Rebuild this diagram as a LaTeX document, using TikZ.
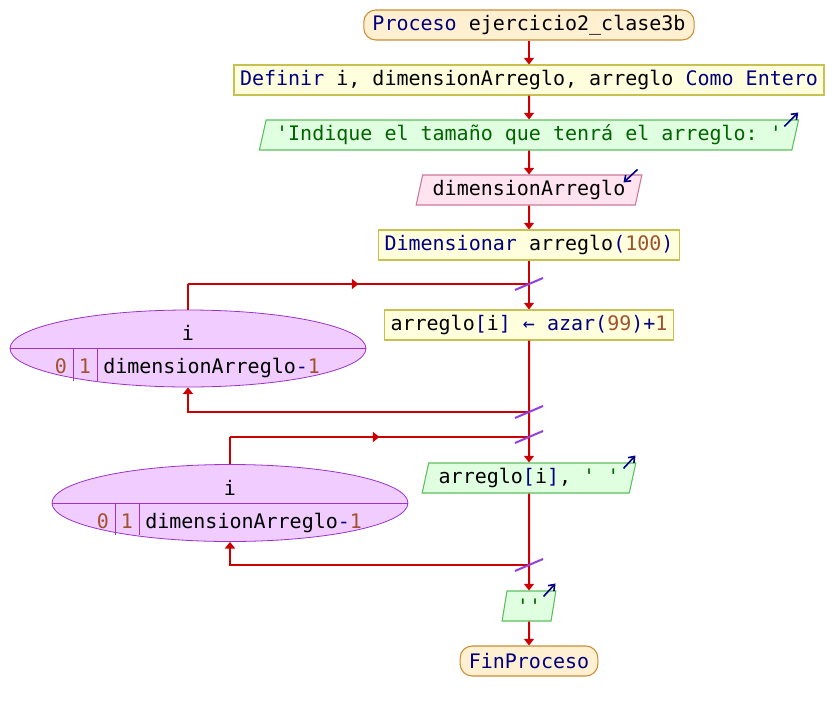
\documentclass[tikz,border=0pt]{standalone}
\usepackage{fontspec}
\setmonofont{DejaVu Sans Mono}
\usetikzlibrary{positioning, shapes.geometric, arrows.meta, decorations.markings}
\definecolor{flowRed}{HTML}{CC0000}
\definecolor{kwBlue}{HTML}{000080}
\definecolor{strGreen}{HTML}{006400}
\definecolor{numBrown}{HTML}{A0522D}
\definecolor{termFill}{HTML}{FFF0D2}
\definecolor{termLine}{HTML}{CC8C33}
\definecolor{procFill}{HTML}{FFFFDD}
\definecolor{procLine}{HTML}{C8C050}
\definecolor{outFill}{HTML}{E0FFE0}
\definecolor{outLine}{HTML}{5CBF5C}
\definecolor{inFill}{HTML}{FFE4F0}
\definecolor{inLine}{HTML}{CC7799}
\definecolor{loopFill}{HTML}{F0CCFF}
\definecolor{loopLine}{HTML}{9933CC}
\definecolor{slashPurple}{HTML}{9040E0}

\newcommand{\kwd}[1]{\textcolor{kwBlue}{#1}}
\newcommand{\nmb}[1]{\textcolor{numBrown}{#1}}
\newcommand{\strg}[1]{\textcolor{strGreen}{#1}}

\begin{document}
\begin{tikzpicture}[
    x=0.75pt, y=-0.75pt,
    font=\ttfamily\fontsize{15}{18}\selectfont,
    term/.style={rectangle, draw=termLine, fill=termFill, rounded corners=9pt, minimum height=22.5pt, inner xsep=6.5pt, inner ysep=0pt, line width=0.8pt},
    proc/.style={rectangle, draw=procLine, fill=procFill, minimum height=22.5pt, inner xsep=4.5pt, inner ysep=0pt, line width=0.8pt},
    outp/.style={trapezium, trapezium left angle=71.6, trapezium right angle=108.4, trapezium stretches body=true, draw=outLine, fill=outFill, minimum height=22.5pt, inner xsep=7.5pt, inner ysep=0pt, line width=0.8pt},
    inp/.style={outp, draw=inLine, fill=inFill},
    loopvar/.style={ellipse, draw=loopLine, fill=loopFill, minimum width=267pt, minimum height=57.75pt, inner sep=0pt, line width=0.6pt},
    cell/.style={inner sep=0pt, text height=10.5pt, text depth=3pt},
    flow/.style={draw=flowRed, line width=1.5pt},
    arrow/.style={-{Triangle[length=5pt, width=7.5pt]}},
    midarrow/.style={postaction={decorate}, decoration={markings, mark=at position 0.5 with {\arrow[flowRed]{Triangle[length=5pt, width=7.5pt]}}}},
    slash/.style={draw=slashPurple, line width=1.5pt},
    ioicon/.style={draw=kwBlue, line width=1.2pt, -{Straight Barb[length=4pt, width=6pt]}}
]
\useasboundingbox (0,0) rectangle (833,711);

% main sequence
\node[term] (start) at (529,25) {\kwd{Proceso} ejercicio2\_clase3b};
\node[proc] (defs) at (529,80) {\kwd{Definir} i, dimensionArreglo, arreglo \kwd{Como Entero}};
\node[outp] (ask) at (529,135) {\strg{'Indique el tamaño que tenrá el arreglo: '}};
\node[inp] (read) at (529,190) {dimensionArreglo};
\node[proc] (dim) at (529,245) {\kwd{Dimensionar} arreglo\kwd{(}\nmb{100}\kwd{)}};
\node[proc] (fill) at (529,325) {arreglo\kwd{[}i\kwd{]} \kwd{←} \kwd{azar(}\nmb{99}\kwd{)+}\nmb{1}};
\node[outp] (show) at (529,478) {arreglo\kwd{[}i\kwd{]}, \strg{' '}};
\node[outp] (newline) at (529,606) {\strg{''}};
\node[term] (fin) at (529,661) {\kwd{FinProceso}};

% loops
\node[loopvar] (forA) at (188,348.5) {};
\node[loopvar] (forB) at (230,503) {};
\coordinate (loopAtop) at (529,284);
\coordinate (loopAbot) at (529,412);
\coordinate (loopBtop) at (529,437);
\coordinate (loopBbot) at (529,565);

\foreach \f in {forA, forB} {
  \draw[draw=loopLine, line width=0.6pt] (\f.west) -- (\f.east);
  \node[cell] (\f-var) at ([shift={(0,-13)}]\f.center) {i};
  \node[cell] (\f-from) at ([shift={(-127,20)}]\f.center) {\nmb{0}};
  \node[cell] (\f-step) at ([shift={(-103,20)}]\f.center) {\nmb{1}};
  \node[cell, anchor=west] (\f-to) at ([shift={(-85,20)}]\f.center) {dimensionArreglo\kwd{-}\nmb{1}};
  \draw[draw=loopLine, line width=0.6pt] ([shift={(-115,0)}]\f.center) -- ++(0,32);
  \draw[draw=loopLine, line width=0.6pt] ([shift={(-91,0)}]\f.center) -- ++(0,32);
}

% io icons
\draw[ioicon] ([shift={(-15,7)}]ask.top right corner) -- ([shift={(-1,-7)}]ask.top right corner);
\draw[ioicon] ([shift={(-5,-5)}]read.top right corner) -- ([shift={(-19,8)}]read.top right corner);
\draw[ioicon] ([shift={(-13,6)}]show.top right corner) -- ([shift={(-1,-7)}]show.top right corner);
\draw[ioicon] ([shift={(-13,6)}]newline.top right corner) -- ([shift={(-1,-7)}]newline.top right corner);

% connectors
\draw[flow, arrow] (start) -- (defs);
\draw[flow, arrow] (defs) -- (ask);
\draw[flow, arrow] (ask) -- (read);
\draw[flow, arrow] (read) -- (dim);
\draw[flow, arrow] (dim) -- (fill);
\draw[flow, arrow] (fill) -- (show);
\draw[flow, arrow] (show) -- (newline);
\draw[flow, arrow] (newline) -- (fin);

\draw[flow] (forA.north) -- (forA.north |- loopAtop);
\draw[flow, midarrow] (forA.north |- loopAtop) -- (loopAtop);
\draw[flow, arrow] (loopAbot) -| (forA.south);
\draw[flow] (forB.north) -- (forB.north |- loopBtop);
\draw[flow, midarrow] (forB.north |- loopBtop) -- (loopBtop);
\draw[flow, arrow] (loopBbot) -| (forB.south);

\foreach \c in {loopAtop, loopAbot, loopBtop, loopBbot}
  \draw[slash] ([shift={(-14,6)}]\c) -- ([shift={(14,-6)}]\c);

\end{tikzpicture}
\end{document}
